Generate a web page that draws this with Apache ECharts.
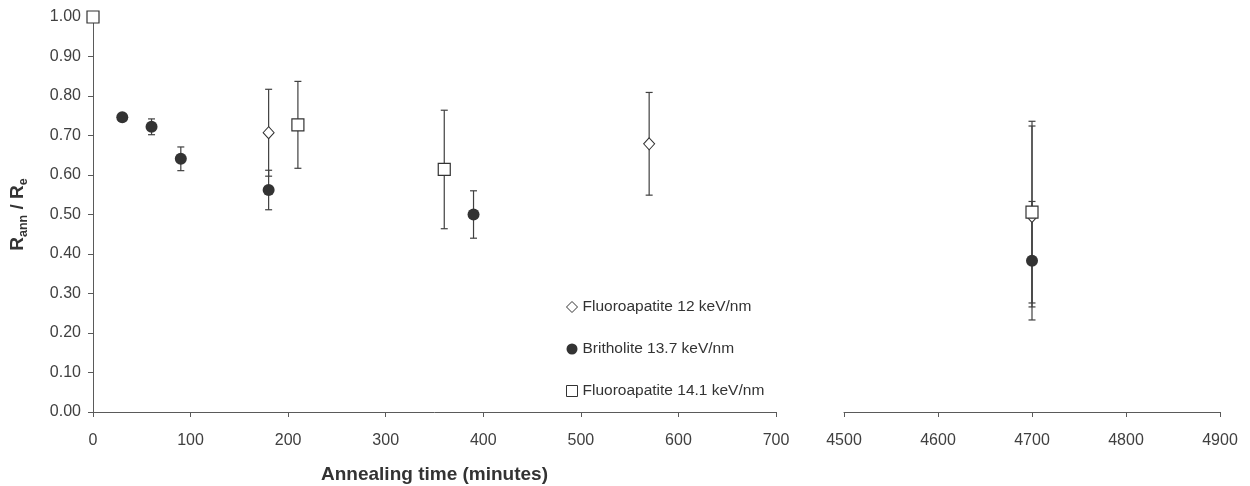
<!DOCTYPE html>
<html>
<head>
<meta charset="utf-8">
<script src="https://cdn.jsdelivr.net/npm/echarts@6/dist/echarts.min.js"></script>
<style>
html,body{margin:0;padding:0;background:#fff;}
#chart{width:1250px;height:486px;}
</style>
</head>
<body>
<div id="chart"></div>
<script>
// ---- Data ----
const seriesNames = ['Fluoroapatite 12 keV/nm', 'Britholite 13.7 keV/nm', 'Fluoroapatite 14.1 keV/nm'];

const fa12X   = [180, 570, 4700];
const fa12Y   = [0.707, 0.679, 0.495];
const fa12Err = [0.11, 0.13, 0.229];

const britX   = [30, 60, 90, 180, 390, 4700];
const britY   = [0.746, 0.722, 0.641, 0.562, 0.500, 0.383];
const britErr = [0, 0.02, 0.03, 0.05, 0.06, 0.15];

const fa14X   = [0, 210, 360, 4700];
const fa14Y   = [1.00, 0.727, 0.614, 0.506];
const fa14Err = [0, 0.11, 0.15, 0.23];

const xTicksLeft  = [0, 700, 100];     // min, max, interval
const xTicksRight = [4500, 4900, 100];
const yTicks      = [0, 1, 0.1];

// ---- Chart ----
const FONT = 'Liberation Sans, Arial, Helvetica, sans-serif';
const AXIS_COLOR = '#5a5a5a';
const TEXT_COLOR = '#404040';
const BREAK_X = 1000;

function split(xs, ys, es, right) {
  const out = [];
  xs.forEach((x, i) => {
    if ((x > BREAK_X) === right) out.push([x, ys[i], es[i]]);
  });
  return out;
}

const markerStyles = [
  { symbol: 'diamond', symbolSize: [11, 12], itemStyle: { color: '#ffffff', borderColor: '#333333', borderWidth: 1, opacity: 1 } },
  { symbol: 'circle', symbolSize: 12, itemStyle: { color: '#333333', borderColor: '#333333', borderWidth: 0, opacity: 1 } },
  { symbol: 'rect', symbolSize: 12, itemStyle: { color: '#ffffff', borderColor: '#333333', borderWidth: 1.2, opacity: 1 } }
];

const allData = [
  [fa12X, fa12Y, fa12Err],
  [britX, britY, britErr],
  [fa14X, fa14Y, fa14Err]
];

function errorRender(params, api) {
  const x = api.value(0), y = api.value(1), e = api.value(2);
  if (!e) return null;
  const top = api.coord([x, y + e]);
  const bot = api.coord([x, y - e]);
  const hw = 3.5;
  const style = { stroke: '#404040', lineWidth: 1.2, fill: null };
  return {
    type: 'group',
    children: [
      { type: 'line', shape: { x1: top[0], y1: top[1], x2: bot[0], y2: bot[1] }, style },
      { type: 'line', shape: { x1: top[0] - hw, y1: top[1], x2: top[0] + hw, y2: top[1] }, style },
      { type: 'line', shape: { x1: bot[0] - hw, y1: bot[1], x2: bot[0] + hw, y2: bot[1] }, style }
    ]
  };
}

const series = [];
// error bars first
[false, true].forEach((right, gi) => {
  allData.forEach((d, si) => {
    series.push({
      type: 'custom',
      name: seriesNames[si] + ' err',
      xAxisIndex: gi, yAxisIndex: gi,
      renderItem: errorRender,
      encode: { x: 0, y: 1 },
      data: split(d[0], d[1], d[2], right),
      z: 2,
      silent: true
    });
  });
});
// markers
[false, true].forEach((right, gi) => {
  allData.forEach((d, si) => {
    series.push(Object.assign({
      type: 'scatter',
      name: seriesNames[si],
      xAxisIndex: gi, yAxisIndex: gi,
      data: split(d[0], d[1], d[2], right).map(p => [p[0], p[1]]),
      z: 3 + si
    }, JSON.parse(JSON.stringify(markerStyles[si]))));
  });
});

const axisLine = { show: true, lineStyle: { color: AXIS_COLOR, width: 1 } };
const axisTick = { show: true, length: 5, lineStyle: { color: AXIS_COLOR, width: 1 } };
const xLabel = { color: TEXT_COLOR, fontSize: 16, fontFamily: FONT, margin: 21, formatter: v => String(v) };

const option = {
  animation: false,
  backgroundColor: '#ffffff',
  grid: [
    { left: 93, top: 17, width: 683, height: 395, containLabel: false, outerBoundsMode: 'none' },
    { left: 844, top: 17, width: 376, height: 395, containLabel: false, outerBoundsMode: 'none' }
  ],
  xAxis: [
    {
      type: 'value', gridIndex: 0,
      min: xTicksLeft[0], max: xTicksLeft[1], interval: xTicksLeft[2],
      axisLine, axisTick, axisLabel: xLabel,
      splitLine: { show: false },
      name: 'Annealing time (minutes)',
      nameLocation: 'middle', nameGap: 53,
      nameTextStyle: { color: '#333333', fontSize: 19, fontWeight: 'bold', fontFamily: FONT }
    },
    {
      type: 'value', gridIndex: 1,
      min: xTicksRight[0], max: xTicksRight[1], interval: xTicksRight[2],
      axisLine, axisTick, axisLabel: xLabel,
      splitLine: { show: false }
    }
  ],
  yAxis: [
    {
      type: 'value', gridIndex: 0,
      min: yTicks[0], max: yTicks[1], interval: yTicks[2],
      axisLine, axisTick,
      axisLabel: { color: TEXT_COLOR, fontSize: 16, fontFamily: FONT, margin: 12,
        formatter: v => v.toFixed(2) },
      splitLine: { show: false },
      name: 'R{sub|ann} / R{sub|e}',
      nameLocation: 'middle', nameRotate: 90, nameGap: 63,
      nameTextStyle: {
        color: '#333333', fontSize: 19, fontWeight: 'bold', fontFamily: FONT, lineHeight: 24,
        rich: {
          sub: { fontSize: 12.5, fontWeight: 'bold', fontFamily: FONT, color: '#333333', lineHeight: 11, verticalAlign: 'bottom' }
        }
      }
    },
    {
      type: 'value', gridIndex: 1,
      min: yTicks[0], max: yTicks[1], interval: yTicks[2],
      show: false
    }
  ],
  legend: {
    orient: 'vertical',
    left: 566, top: 299,
    padding: 0,
    itemGap: 26,
    itemWidth: 11, itemHeight: 11,
    selectedMode: false,
    textStyle: { color: '#333333', fontSize: 15.5, fontFamily: FONT },
    data: [
      { name: seriesNames[0], icon: 'diamond', itemStyle: { color: '#ffffff', borderColor: '#333333', borderWidth: 1 } },
      { name: seriesNames[1], icon: 'circle', itemStyle: { color: '#333333', borderWidth: 0 } },
      { name: seriesNames[2], icon: 'rect', itemStyle: { color: '#ffffff', borderColor: '#333333', borderWidth: 1 } }
    ]
  },
  series
};

const chart = echarts.init(document.getElementById('chart'), null, { renderer: 'canvas' });
chart.setOption(option);
</script>
</body>
</html>
